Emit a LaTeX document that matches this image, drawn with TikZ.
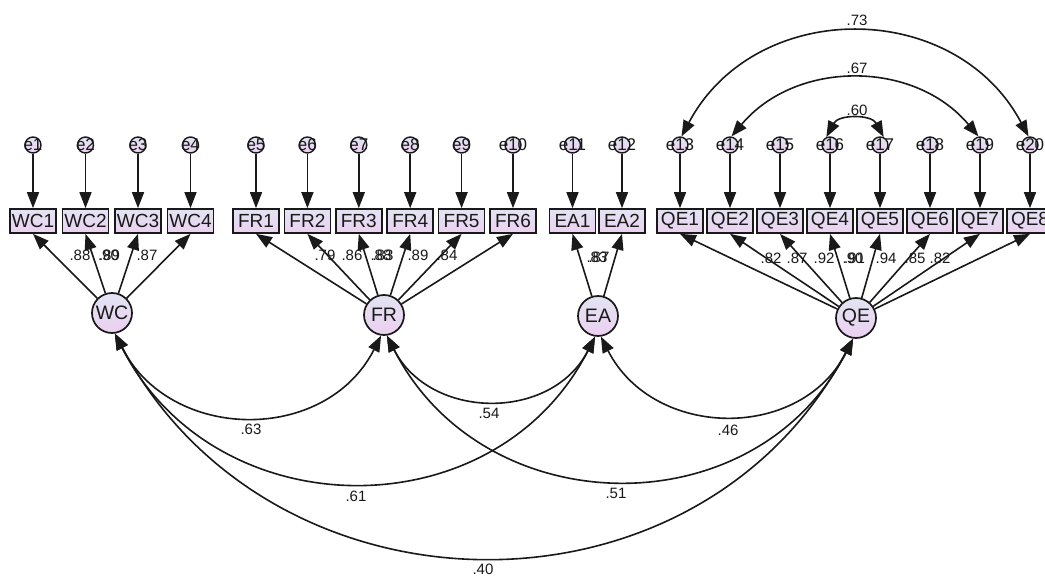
\documentclass[tikz,border=0pt]{standalone}
\usepackage{fontspec}
\setmainfont{Liberation Sans}
\usetikzlibrary{arrows.meta}
\definecolor{fillTop}{RGB}{226,228,242}
\definecolor{fillBot}{RGB}{236,208,240}
\definecolor{ink}{RGB}{25,25,25}
\begin{document}
\begin{tikzpicture}[x=1pt,y=1pt,
  obs/.style={draw=ink, line width=1.7pt, top color=fillTop, bottom color=fillBot,
    minimum width=46pt, minimum height=24pt, inner sep=0pt,
    font=\fontsize{19}{19}\selectfont, text=ink},
  lat/.style={circle, draw=ink, line width=1.7pt, top color=fillTop, bottom color=fillBot,
    minimum size=40pt, inner sep=0pt, font=\fontsize{19.5}{19.5}\selectfont, text=ink},
  err/.style={circle, draw=ink, line width=1.4pt, top color=fillTop, bottom color=fillBot,
    minimum size=16pt, inner sep=0pt},
  elab/.style={font=\fontsize{17}{17}\selectfont, inner sep=0pt, text=ink},
  num/.style={font=\fontsize{15}{15}\selectfont, inner sep=0pt, text=ink},
  reg/.style={-{Triangle[length=16pt,width=12pt]}, line width=1.6pt, draw=ink},
  cov/.style={{Triangle[length=16pt,width=12pt]}-{Triangle[length=16pt,width=12pt]}, line width=1.6pt, draw=ink},
]
\useasboundingbox (0,0) rectangle (1045,-578);
\clip (0,0) rectangle (1045,-578);
\fill[white] (0,0) rectangle (1045,-578);

% latent variables
\node[lat] (WC) at (112,-313) {WC};
\node[lat] (FR) at (384,-315) {FR};
\node[lat] (EA) at (598,-316) {EA};
\node[lat] (QE) at (856,-318) {QE};

% observed + errors
\foreach \n/\x/\e in {1/33/1,2/85.5/2,3/138/3,4/190.5/4}{
  \node[obs] (WC\n) at (\x,-221) {WC\n};
  \node[err] (e\e) at (\x,-145) {};
  \draw[reg] (e\e) -- (WC\n);
  \draw[reg] (WC) -- (WC\n.south);
}
\foreach \n/\x/\e in {1/256/5,2/307.4/6,3/358.8/7,4/410.2/8,5/461.6/9,6/513/10}{
  \node[obs] (FR\n) at (\x,-221) {FR\n};
  \node[err] (e\e) at (\x,-145) {};
  \draw[reg] (e\e) -- (FR\n);
  \draw[reg] (FR) -- (FR\n.south);
}
\foreach \n/\x/\e in {1/572.5/11,2/622/12}{
  \node[obs] (EA\n) at (\x,-221) {EA\n};
  \node[err] (e\e) at (\x,-145) {};
  \draw[reg] (e\e) -- (EA\n);
  \draw[reg] (EA) -- (EA\n.south);
}
\foreach \n/\x/\e in {1/680/13,2/730/14,3/780/15,4/830/16,5/880/17,6/930/18,7/980/19,8/1030/20}{
  \node[obs] (QE\n) at (\x,-221) {QE\n};
  \node[err] (e\e) at (\x,-145) {};
  \draw[reg] (e\e) -- (QE\n);
  \draw[reg] (QE) -- (QE\n.south);
}

% error covariances
\draw[cov] (e13.80) to[out=62,in=118,looseness=1.16] (e20.100);
\draw[cov] (e14.80) to[out=50,in=130,looseness=1.04] (e19.100);
\draw[cov] (e16.115) to[out=62,in=118,looseness=1.16] (e17.65);

% latent covariances
\draw[cov] (WC.-82) to[out=-63,in=-117,looseness=1.17] (FR.-98);
\draw[cov] (FR.-82) to[out=-63,in=-117,looseness=1.17] (EA.-98);
\draw[cov] (EA.-82) to[out=-63,in=-117,looseness=1.17] (QE.-98);
\draw[cov] (WC.-82) to[out=-63,in=-117,looseness=1.17] (EA.-98);
\draw[cov] (FR.-82) to[out=-63,in=-117,looseness=1.17] (QE.-98);
\draw[cov] (WC.-82) to[out=-62,in=-118,looseness=1.15] (QE.-98);

% error labels
\foreach \e in {1,...,20}{ \node[elab] (te\e) at (e\e) {e\e}; }

% loading labels
\node[num] (lw1) at (80,-255) {.88};
\node[num] (lw2) at (108.5,-255) {.90};
\node[num] (lw3) at (109.5,-255) {.89};
\node[num] (lw4) at (147,-255) {.87};
\node[num] (lf1) at (325,-255) {.79};
\node[num] (lf2) at (352,-255) {.86};
\node[num] (lf3) at (381,-255) {.88};
\node[num] (lf4) at (383,-255) {.83};
\node[num] (lf5) at (418,-255) {.89};
\node[num] (lf6) at (447,-255) {.84};
\node[num] (la1) at (597,-257) {.83};
\node[num] (la2) at (599,-257) {.87};
\node[num] (lq1) at (771,-258) {.82};
\node[num] (lq2) at (797,-258) {.87};
\node[num] (lq3) at (824,-258) {.92};
\node[num] (lq4) at (853,-258) {.90};
\node[num] (lq5) at (854.5,-258) {.91};
\node[num] (lq6) at (886,-258) {.94};
\node[num] (lq7) at (915,-258) {.85};
\node[num] (lq8) at (940,-258) {.82};

% covariance labels
\node[num] (c1) at (857,-20) {.73};
\node[num] (c2) at (857,-68) {.67};
\node[num] (c3) at (857,-110) {.60};
\node[num] (c4) at (251,-429) {.63};
\node[num] (c5) at (489,-413) {.54};
\node[num] (c6) at (728,-430) {.46};
\node[num] (c7) at (356,-496) {.61};
\node[num] (c8) at (616,-493) {.51};
\node[num] (c9) at (483,-569) {.40};
\end{tikzpicture}
\end{document}
